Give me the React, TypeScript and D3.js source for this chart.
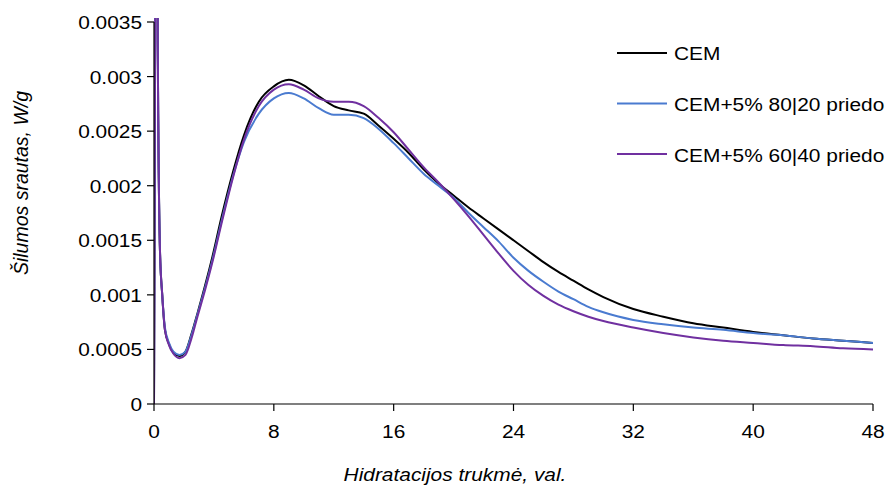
import React from "react";
import * as d3 from "d3";

const hours = [0, 0.2, 0.25, 0.29, 0.4, 0.55, 0.73, 1, 1.3, 1.7, 2.1, 2.5, 2.9, 3.4, 3.9, 4.5, 5.3, 6, 7, 8,
  9, 10, 11, 12, 13, 14, 15, 16, 17, 18, 19, 20, 21, 22, 23, 24, 25, 26, 27, 28, 29, 30,
  32, 34, 36, 38, 40, 42, 44, 46, 48];

const cem = [0, 0.006, 0.0033, 0.0025, 0.0014, 0.001, 0.00068, 0.00055, 0.00047, 0.00044, 0.00048, 0.00064, 0.00083, 0.00108, 0.00135, 0.00171, 0.00214, 0.00246, 0.00277, 0.00291,
  0.00297, 0.00292, 0.00282, 0.00273, 0.00269, 0.00266, 0.00255, 0.00243, 0.0023, 0.00215, 0.00202, 0.00191, 0.0018, 0.0017, 0.0016, 0.0015, 0.0014, 0.0013, 0.00121, 0.00113, 0.00105, 0.00098,
  0.00087, 0.0008, 0.00074, 0.0007, 0.00066, 0.00063, 0.0006, 0.00058, 0.00056];

const cem8020 = [0, 0.006, 0.0033, 0.0025, 0.0014, 0.001, 0.0007, 0.00056, 0.00048, 0.00045, 0.00048, 0.00063, 0.00082, 0.00106, 0.00132, 0.00167, 0.0021, 0.0024, 0.00266, 0.0028,
  0.00285, 0.0028, 0.00271, 0.00265, 0.00265, 0.00262, 0.00252, 0.00239, 0.00225, 0.00211, 0.002, 0.00189, 0.00175, 0.00162, 0.00149, 0.00134, 0.00122, 0.00112, 0.00103, 0.00096, 0.00089, 0.00084,
  0.00077, 0.00073, 0.0007, 0.00068, 0.00065, 0.00063, 0.0006, 0.00058, 0.00056];

const cem6040 = [0, 0.006, 0.0033, 0.0025, 0.0014, 0.001, 0.00068, 0.00054, 0.00046, 0.00042, 0.00045, 0.0006, 0.0008, 0.00104, 0.0013, 0.00165, 0.00209, 0.00242, 0.00273, 0.00288,
  0.00293, 0.00288, 0.0028, 0.00277, 0.00277, 0.00273, 0.00262, 0.00249, 0.00233, 0.00217, 0.00203, 0.00188, 0.00172, 0.00155, 0.00138, 0.00122, 0.00109, 0.00099, 0.00091, 0.00085, 0.0008, 0.00076,
  0.0007, 0.00065, 0.00061, 0.00058, 0.00056, 0.00054, 0.00053, 0.00051, 0.0005];

const seriesNames = ["CEM", "CEM+5% 80|20 priedo", "CEM+5% 60|40 priedo"];
const seriesColors = ["#000000", "#4a7bd0", "#7030a0"];
const seriesValues = [cem, cem8020, cem6040];

const yTicks = [0, 0.0005, 0.001, 0.0015, 0.002, 0.0025, 0.003, 0.0035];
const yTickLabels = ["0", "0.0005", "0.001", "0.0015", "0.002", "0.0025", "0.003", "0.0035"];
const xTicks = [0, 8, 16, 24, 32, 40, 48];

const W = 888, H = 485;
const left = 154, right = 873, top = 22, bottom = 404;
const SX = 1.13;
const FONT = "'Liberation Sans', Arial, sans-serif";

export default function App() {
  const x = d3.scaleLinear().domain([0, 48]).range([left, right]);
  const y = d3.scaleLinear().domain([0, 0.0035]).range([bottom, top]);
  const line = d3.line<number>()
    .x((_, i) => x(hours[i]))
    .y((d) => y(d))
    .curve(d3.curveMonotoneX);

  const hText = (tx: number, ty: number, s: string, anchor: string, size: number, italic = false) => (
    <text transform={`translate(${tx},${ty}) scale(${SX},1)`} textAnchor={anchor as any}
      fontSize={size} fontFamily={FONT} fontStyle={italic ? "italic" : "normal"} fill="#000">{s}</text>
  );

  return (
    <svg width={W} height={H} style={{ position: "absolute", left: 0, top: 0, background: "#fff" }}>
      <defs>
        <clipPath id="plotclip">
          <rect x={left} y={18} width={right - left + 2} height={bottom - 18 + 1} />
        </clipPath>
      </defs>
      <rect x={0} y={0} width={W} height={H} fill="#fff" />
      <g clipPath="url(#plotclip)">
        {seriesValues.map((vals, i) => (
          <path key={i} d={line(vals) || ""} fill="none" stroke={seriesColors[i]} strokeWidth={2} strokeLinejoin="round" />
        ))}
      </g>
      <line x1={left} x2={left} y1={top} y2={bottom} stroke="#000" strokeWidth={1.2} />
      <line x1={left} x2={right} y1={bottom} y2={bottom} stroke="#000" strokeWidth={1.2} />
      {yTicks.map((t, i) => (
        <g key={"y" + i}>
          <line x1={left - 7} x2={left} y1={y(t)} y2={y(t)} stroke="#000" strokeWidth={1.2} />
          {hText(142, y(t) + 7, yTickLabels[i], "end", 18.5)}
        </g>
      ))}
      {xTicks.map((t, i) => (
        <g key={"x" + i}>
          <line x1={x(t)} x2={x(t)} y1={bottom} y2={bottom + 7} stroke="#000" strokeWidth={1.2} />
          {hText(x(t), 438, String(t), "middle", 18.5)}
        </g>
      ))}
      {hText(455, 481, "Hidratacijos trukmė, val.", "middle", 18.5, true)}
      <text transform={`translate(28,183) rotate(-90)`} textAnchor="middle" fontSize={19.5} fontFamily={FONT} fontStyle="italic" fill="#000">Šilumos srautas, W/g</text>
      {seriesNames.map((n, i) => (
        <g key={"l" + i}>
          <line x1={617} x2={667} y1={53 + i * 50.5} y2={53 + i * 50.5} stroke={seriesColors[i]} strokeWidth={2} />
          {hText(674, 60 + i * 50.8, n, "start", 18.5, false)}
        </g>
      ))}
    </svg>
  );
}
